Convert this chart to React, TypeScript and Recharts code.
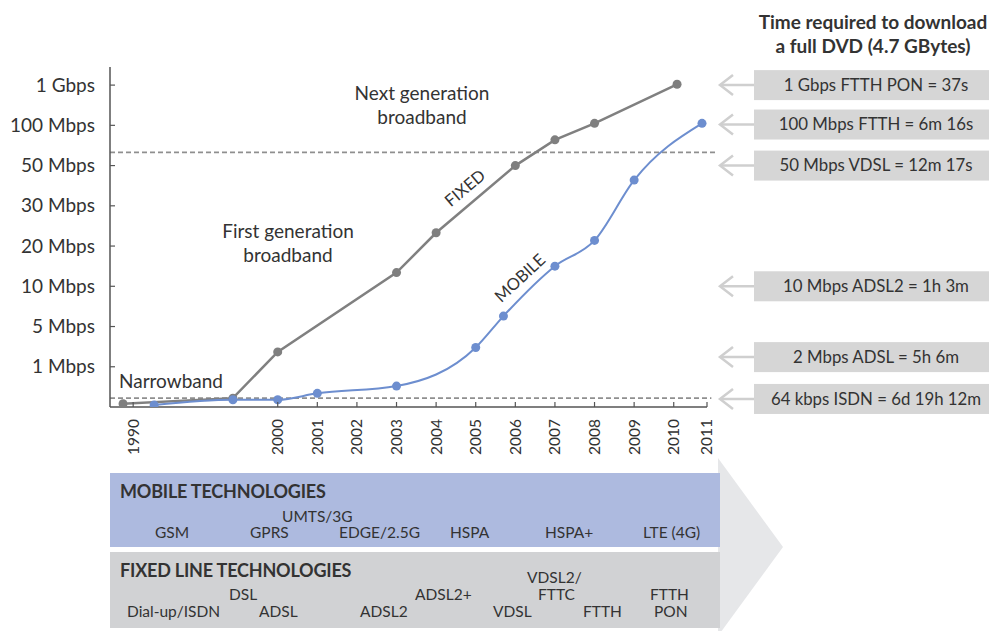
import { LineChart, Line, XAxis, YAxis, ReferenceLine } from "recharts";

const FONT = "Lato, 'Open Sans', sans-serif";
const TEXT = "#333333";

// y axis is an ordinal ladder of speeds, one step per label
const speedSteps = [1, 2, 3, 4, 5, 6, 7, 8];
const speedLabels = ["1 Mbps", "5 Mbps", "10 Mbps", "20 Mbps", "30 Mbps", "50 Mbps", "100 Mbps", "1 Gbps"];

const yearTicks = [1990, 2000, 2001, 2002, 2003, 2004, 2005, 2006, 2007, 2008, 2009, 2010, 2011];

const fixedYears = [1989.3, 1996.9, 2000, 2003, 2004, 2006, 2007, 2008, 2010.1];
const fixedSpeed = [0.08, 0.22, 1.37, 3.34, 4.33, 6.0, 6.64, 7.05, 8.02];

const mobileYears = [1991.45, 1996.9, 2000, 2001, 2003, 2005, 2005.7, 2007, 2008, 2009, 2010.85];
const mobileSpeed = [0.05, 0.18, 0.18, 0.34, 0.52, 1.48, 2.26, 3.5, 4.14, 5.64, 7.05];

// dashed borders: next generation / narrowband
const nextGenLevel = 6.33;
const narrowbandLevel = 0.22;

const dvdLabels = [
  "1 Gbps FTTH PON = 37s",
  "100 Mbps FTTH = 6m 16s",
  "50 Mbps VDSL = 12m 17s",
  "10 Mbps ADSL2 = 1h 3m",
  "2 Mbps ADSL = 5h 6m",
  "64 kbps ISDN = 6d 19h 12m",
];
const dvdLevels = [8, 7.02, 6.0, 3.0, 1.24, 0.2];

const mobileTech = ["GSM", "GPRS", "UMTS/3G", "EDGE/2.5G", "HSPA", "HSPA+", "LTE (4G)"];
const fixedTech = ["Dial-up/ISDN", "DSL", "ADSL", "ADSL2", "ADSL2+", "VDSL", "VDSL2/", "FTTC", "FTTH", "FTTH", "PON"];

// the 1990s are squeezed on the axis, and 2011 sits at the axis end
function axisPos(year: number) {
  if (year < 2000) return (year - 2000) * 0.365;
  if (year > 2010) return 10 + (year - 2010) * 0.84;
  return year - 2000;
}

const fixedData = fixedYears.map((y, i) => ({ x: axisPos(y), v: fixedSpeed[i] }));
const mobileData = mobileYears.map((y, i) => ({ x: axisPos(y), v: mobileSpeed[i] }));
const tickPos = yearTicks.map(axisPos);

// plot geometry
const PLOT_TOP = 67;
const PLOT_BOTTOM = 407;
const Y_MAX = 8.45;
const yOf = (lvl: number) => PLOT_BOTTOM - (lvl / Y_MAX) * (PLOT_BOTTOM - PLOT_TOP);

function YearTick(props: any) {
  const { x, y, payload } = props;
  const i = tickPos.indexOf(payload.value);
  return (
    <g>
      <line x1={x} y1={y} x2={x} y2={y - 5} stroke="#555" strokeWidth={1.2} />
      <text
        x={x}
        y={y + 12}
        transform={`rotate(-90 ${x} ${y + 12})`}
        textAnchor="end"
        dy="0.35em"
        fontSize={15.5}
        fontFamily={FONT}
        fill={TEXT}
      >
        {yearTicks[i]}
      </text>
    </g>
  );
}

function SpeedTick(props: any) {
  const { x, y, payload } = props;
  const i = speedSteps.indexOf(payload.value);
  return (
    <g>
      <line x1={x} y1={y} x2={x + 5} y2={y} stroke="#555" strokeWidth={1.2} />
      <text x={x - 15} y={y} dy="0.35em" textAnchor="end" fontSize={19} fontFamily={FONT} fill={TEXT}>
        {speedLabels[i]}
      </text>
    </g>
  );
}

export default function App() {
  const bandText = { fontFamily: FONT, fontSize: 15.5, fill: TEXT };
  const mobileX = [155, 250, 282, 339, 450, 545, 643];
  const mobileY = [538, 538, 522, 538, 538, 538, 538];
  const fixedX = [127, 229, 259, 360, 415, 493, 527, 538, 583, 650, 654];
  const fixedY = [617, 600, 617, 617, 600, 617, 583, 600, 617, 600, 617];

  return (
    <div style={{ position: "relative", width: 997, height: 631, margin: "-8px 0 0 -8px", overflow: "hidden", background: "#fff" }}>
      <svg width={997} height={631} style={{ position: "absolute", left: 0, top: 0 }}>
        {/* technology bands */}
        <polygon points="718,458 783,547 718,636" fill="#e6e7e9" />
        <rect x={110} y={473} width={610} height={74} fill="#adbadf" />
        <rect x={110} y={552} width={610} height={76} fill="#d1d2d4" />
        <text x={120} y={498} fontFamily={FONT} fontSize={18} fontWeight={700} fill={TEXT} letterSpacing={-0.2}>
          MOBILE TECHNOLOGIES
        </text>
        <text x={120} y={577} fontFamily={FONT} fontSize={18} fontWeight={700} fill={TEXT} letterSpacing={-0.2}>
          FIXED LINE TECHNOLOGIES
        </text>
        {mobileTech.map((t, i) => (
          <text key={t} x={mobileX[i]} y={mobileY[i]} {...bandText}>
            {t}
          </text>
        ))}
        {fixedTech.map((t, i) => (
          <text key={t + i} x={fixedX[i]} y={fixedY[i]} {...bandText}>
            {t}
          </text>
        ))}

        {/* DVD download panel */}
        <text x={873} y={29} textAnchor="middle" fontFamily={FONT} fontSize={19} fontWeight={700} fill={TEXT}>
          Time required to download
        </text>
        <text x={873} y={53} textAnchor="middle" fontFamily={FONT} fontSize={19} fontWeight={700} fill={TEXT}>
          a full DVD (4.7 GBytes)
        </text>
        {dvdLabels.map((t, i) => {
          const cy = yOf(dvdLevels[i]);
          return (
            <g key={t}>
              <rect x={754} y={cy - 15} width={243} height={30} fill="#d6d6d6" />
              <line x1={720} y1={cy} x2={754} y2={cy} stroke="#cfcfcf" strokeWidth={2.5} />
              <polyline points={`733,${cy - 10} 720,${cy} 733,${cy + 10}`} fill="none" stroke="#cfcfcf" strokeWidth={2.5} />
              <text x={876} y={cy} dy="0.35em" textAnchor="middle" fontFamily={FONT} fontSize={16.8} fill={TEXT}>
                {t}
              </text>
            </g>
          );
        })}
      </svg>

      <div style={{ position: "absolute", left: 0, top: 0 }}>
        <LineChart width={997} height={631} margin={{ top: PLOT_TOP, right: 290, bottom: 180, left: 10 }}>
          <XAxis
            type="number"
            dataKey="x"
            domain={[-4.235, 10.84]}
            ticks={tickPos}
            tick={(p: any) => <YearTick {...p} />}
            tickLine={false}
            tickSize={0}
            tickMargin={0}
            height={44}
            stroke="#555"
            strokeWidth={1.5}
            allowDataOverflow
          />
          <YAxis
            type="number"
            dataKey="v"
            domain={[0, Y_MAX]}
            ticks={speedSteps}
            tick={(p: any) => <SpeedTick {...p} />}
            tickLine={false}
            tickSize={0}
            tickMargin={0}
            width={100}
            stroke="#555"
            strokeWidth={1.5}
            allowDataOverflow
          />
          <ReferenceLine
            segment={[{ x: -4.235, y: nextGenLevel }, { x: 11.1, y: nextGenLevel }]}
            stroke="#8f8f8f"
            strokeWidth={1.8}
            strokeDasharray="5 3"
            ifOverflow="visible"
          />
          <ReferenceLine
            segment={[{ x: -4.235, y: narrowbandLevel }, { x: 10.95, y: narrowbandLevel }]}
            stroke="#8f8f8f"
            strokeWidth={1.8}
            strokeDasharray="5 3"
            ifOverflow="visible"
          />
          <Line
            data={fixedData}
            dataKey="v"
            type="linear"
            stroke="#808080"
            strokeWidth={2.5}
            dot={{ r: 4.5, fill: "#7f7f7f", stroke: "none" }}
            isAnimationActive={false}
          />
          <Line
            data={mobileData}
            dataKey="v"
            type="monotone"
            stroke="#6d8ecf"
            strokeWidth={2}
            dot={{ r: 4.5, fill: "#6d8ecf", stroke: "none" }}
            isAnimationActive={false}
          />
        </LineChart>
      </div>

      {/* annotations over the plot */}
      <svg width={997} height={631} style={{ position: "absolute", left: 0, top: 0, pointerEvents: "none" }}>
        <g fontFamily={FONT} fontSize={19} fill={TEXT} textAnchor="middle">
          <text x={422} y={100}>Next generation</text>
          <text x={422} y={124}>broadband</text>
          <text x={288} y={238}>First generation</text>
          <text x={288} y={262}>broadband</text>
        </g>
        <text x={119} y={388} fontFamily={FONT} fontSize={19} fill={TEXT}>
          Narrowband
        </text>
        <text x={465} y={188} transform="rotate(-40 465 188)" textAnchor="middle" dy="0.35em" fontFamily={FONT} fontSize={16.5} fill={TEXT}>
          FIXED
        </text>
        <text x={520} y={278} transform="rotate(-43 520 278)" textAnchor="middle" dy="0.35em" fontFamily={FONT} fontSize={16.5} fill={TEXT}>
          MOBILE
        </text>
      </svg>
    </div>
  );
}
